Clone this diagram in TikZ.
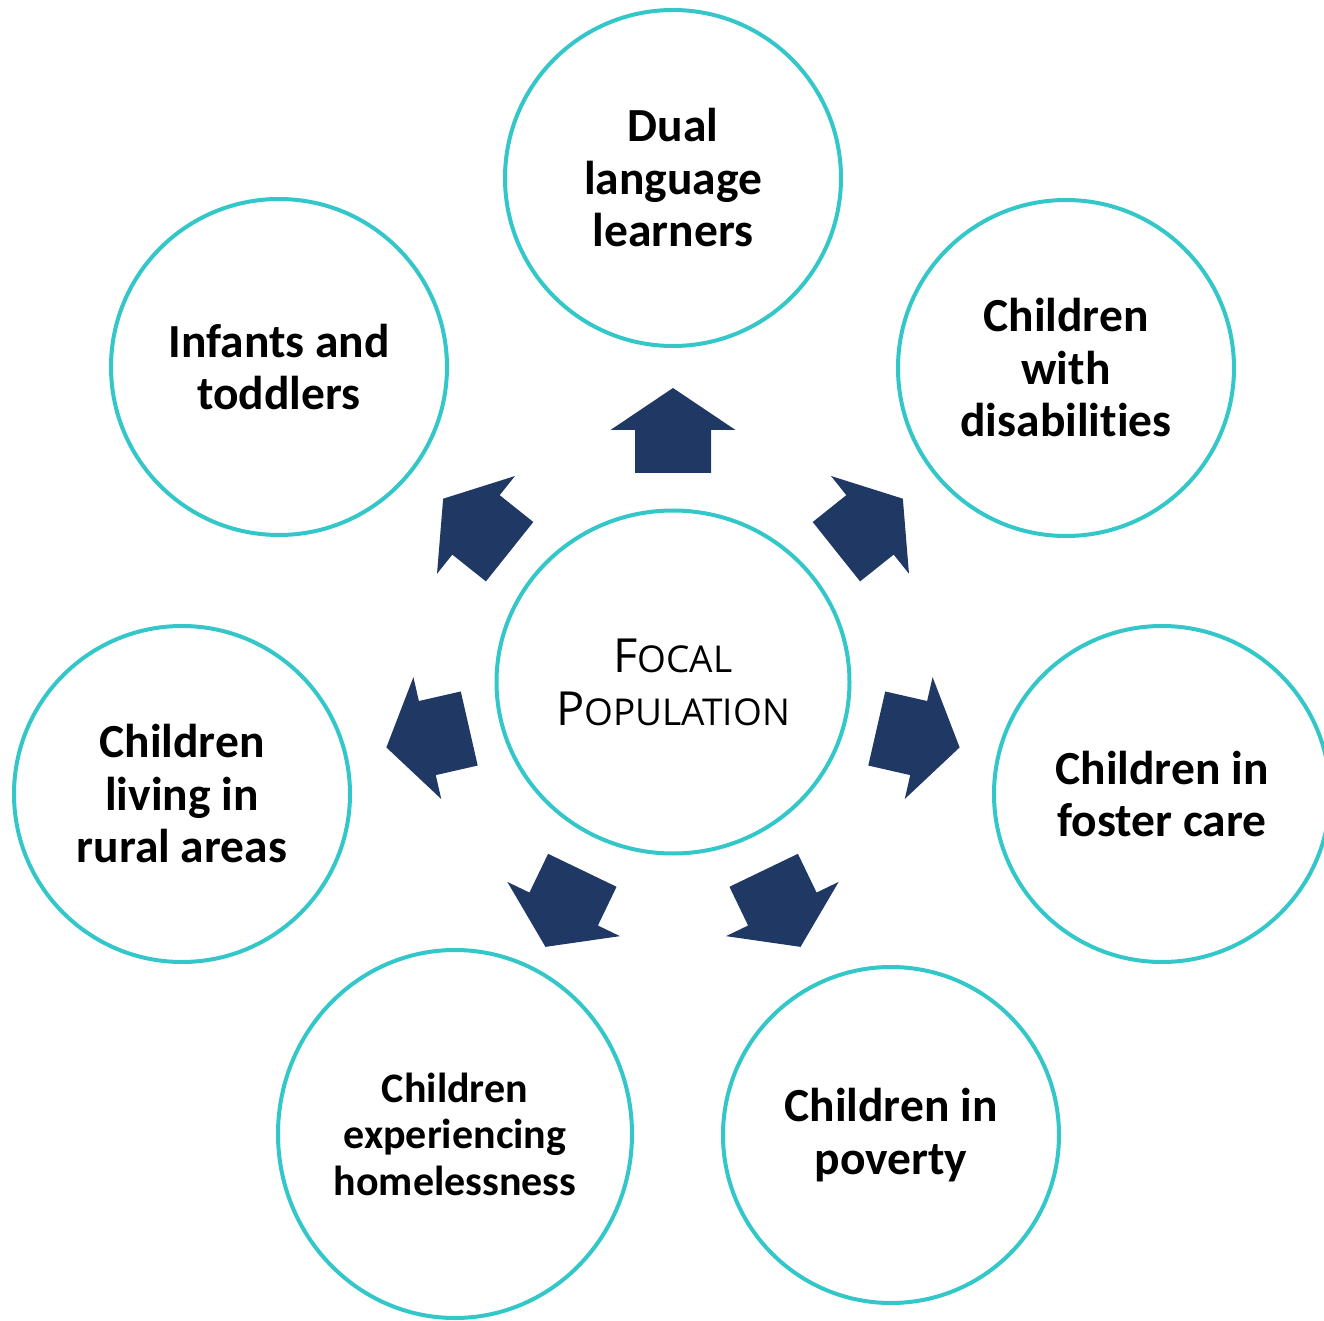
\documentclass[tikz,border=0pt]{standalone}
\usepackage{fontspec}
\setmainfont{Carlito}[Ligatures=NoCommon]
\newfontfamily\focalfont{Open Sans}
\usetikzlibrary{shapes.geometric}
\definecolor{teal}{HTML}{34C7C9}
\definecolor{navy}{HTML}{203864}
\tikzset{
  ring/.style={circle, draw=teal, line width=2pt, fill=white, minimum size=168pt, inner sep=0pt,
    align=center, font=\bfseries\fontsize{23.75}{26.25}\selectfont},
  oval/.style={ellipse, draw=teal, line width=2pt, fill=white, inner sep=0pt, align=center},
  blockarrow/.style={fill=navy, draw=none}
}
\begin{document}
\begin{tikzpicture}[x=0.5pt,y=-0.5pt]
\useasboundingbox (0,0) rectangle (1324,1321);
% center
\node[oval, minimum width=176.5pt, minimum height=171.5pt,
      font=\focalfont\fontsize{23.5}{26.5}\selectfont] (focal) at (673,682)
  {F{\fontsize{18.5}{26.5}\selectfont OCAL}\\P{\fontsize{18.5}{26.5}\selectfont OPULATION}};
% outer
\node[ring] (dual) at (673,178) {Dual\\language\\learners};
\node[ring] (disab) at (1066,368) {Children\\with\\disabilities};
\node[ring] (foster) at (1162,794) {Children in\\foster care};
\node[ring] (poverty) at (891,1135) {Children in\\poverty};
\node[oval, minimum width=177pt, minimum height=184pt,
      font=\bfseries\fontsize{21}{23.25}\selectfont] (homeless) at (455,1134)
  {Children\\experiencing\\homelessness};
\node[ring] (rural) at (182,794) {Children\\living in\\rural areas};
\node[ring] (infants) at (279,367) {Infants and\\toddlers};
% arrows
\foreach \a in {90,38.5714,-12.8571,-64.2857,-115.7143,-167.1429,141.4286}{
  \begin{scope}[shift={(focal.center)}, x=0.5pt, y=0.5pt, rotate=\a]
    \path[blockarrow] (294,0) -- (252,62.5) -- (252,38) -- (209,38) -- (209,-38)
      -- (252,-38) -- (252,-62.5) -- cycle;
  \end{scope}
}
\end{tikzpicture}
\end{document}
